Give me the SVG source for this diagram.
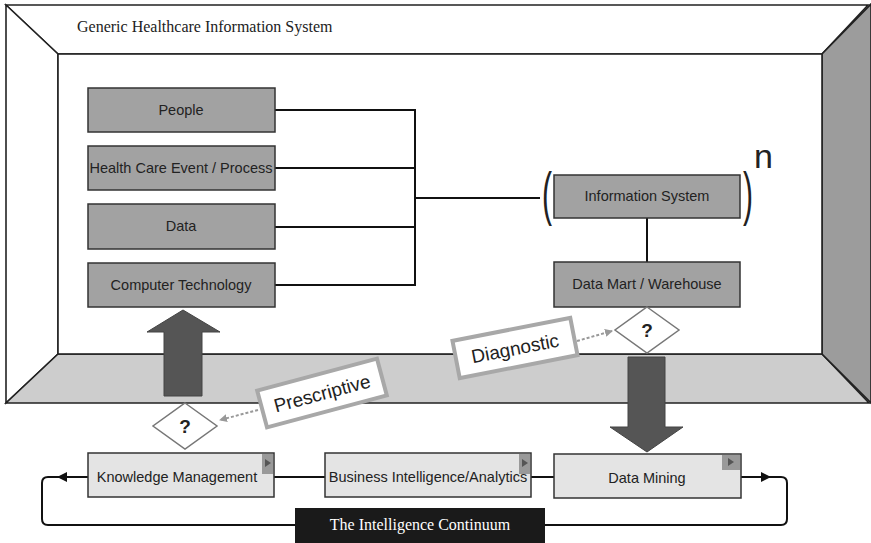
<svg xmlns="http://www.w3.org/2000/svg" width="871" height="543" viewBox="0 0 871 543">
<style>
.wall{stroke:#222;stroke-width:1.6;stroke-linejoin:miter}
.dark{fill:#a2a2a2;stroke:#333;stroke-width:1.5}
.light{fill:#e4e4e4;stroke:#333;stroke-width:1.5}
.lbl{font-family:"Liberation Sans",Arial,sans-serif;fill:#222;text-anchor:middle}
.conn{fill:none;stroke:#111;stroke-width:2}
.tag{fill:#fff;stroke:#a8a8a8;stroke-width:4}
.dia{fill:#fff;stroke:#777;stroke-width:1.5}
.big{fill:#555;stroke:#444;stroke-width:1}
.dash{stroke:#999;stroke-width:2;stroke-dasharray:3 2;fill:none}
.par{font-family:"Liberation Sans",Arial,sans-serif;font-size:50px;fill:#222;text-anchor:middle}
</style>
<defs>
<marker id="ga" markerWidth="8" markerHeight="8" refX="7" refY="4" orient="auto" markerUnits="userSpaceOnUse">
<path d="M0,0 L8,4 L0,8 z" fill="#999"/>
</marker>
</defs>
<g id="frame">
<polygon points="6,5 868,5 822,54 58,54" fill="#fff" class="wall"/>
<polygon points="6,5 58,54 58,354 6,403" fill="#fff" class="wall"/>
<polygon points="58,354 822,354 869,403 6,403" fill="#cdcdcd" class="wall"/>
<polygon points="822,54 871,4 871,403 822,354" fill="#9c9c9c" class="wall"/>
<rect x="58" y="54" width="764" height="300" fill="#fff" class="wall"/>
<text x="77" y="32" font-family="'Liberation Serif','Times New Roman',serif" font-size="16" fill="#222">Generic Healthcare Information System</text>
</g>
<g id="connectors">
<polyline class="conn" points="275,110 415,110 415,285 275,285"/>
<line class="conn" x1="275" y1="168" x2="415" y2="168"/>
<line class="conn" x1="275" y1="227" x2="415" y2="227"/>
<line class="conn" x1="415" y1="198" x2="540" y2="198"/>
<line class="conn" x1="647" y1="218" x2="647" y2="262"/>
<line class="conn" x1="274" y1="477" x2="325" y2="477"/>
<line class="conn" x1="531" y1="477" x2="554" y2="477"/>
<path class="conn" d="M88,477 H48 Q42,477 42,483 V519 Q42,525 48,525 H781 Q787,525 787,519 V483 Q787,477 781,477 H741"/>
<polygon points="57,477 67,472 67,482" fill="#111"/>
<polygon points="771,477 761,472 761,482" fill="#111"/>
<line class="dash" x1="577" y1="341" x2="612" y2="331" marker-end="url(#ga)"/>
<line class="dash" x1="258" y1="410" x2="220" y2="420" marker-end="url(#ga)"/>
</g>
<g id="arrow-up">
<polygon class="big" points="183,310 220,332 202,332 202,396 164,396 164,332 147,332"/>
</g>
<g id="arrow-down">
<polygon class="big" points="628,357 665,357 665,427 683,427 647,452 610,427 628,427"/>
</g>
<g id="people">
<rect class="dark" x="88" y="88" width="187" height="44"/>
<text class="lbl" x="181" y="115" font-size="14.5">People</text>
</g>
<g id="event">
<rect class="dark" x="88" y="146" width="187" height="44"/>
<text class="lbl" x="181" y="173" font-size="14.5">Health Care Event / Process</text>
</g>
<g id="data">
<rect class="dark" x="88" y="204" width="187" height="45"/>
<text class="lbl" x="181" y="231" font-size="14.5">Data</text>
</g>
<g id="tech">
<rect class="dark" x="88" y="263" width="187" height="44"/>
<text class="lbl" x="181" y="290" font-size="14.5">Computer Technology</text>
</g>
<g id="infosys">
<text class="par" transform="translate(547,214) scale(0.6,1.2)">(</text>
<text class="par" transform="translate(748,214) scale(0.6,1.2)">)</text>
<text x="754" y="168" font-family="'Liberation Sans',Arial,sans-serif" font-size="34" fill="#222">n</text>
<rect class="dark" x="554" y="175" width="186" height="43"/>
<text class="lbl" x="647" y="201" font-size="14.5">Information System</text>
</g>
<g id="datamart">
<rect class="dark" x="554" y="262" width="186" height="45"/>
<text class="lbl" x="647" y="289" font-size="14.5">Data Mart / Warehouse</text>
</g>
<g id="diamond-diag">
<polygon class="dia" points="647,307 679,330 647,353 615,330"/>
<text class="lbl" x="647" y="337" font-size="19" font-weight="bold">?</text>
</g>
<g id="diagnostic">
<g transform="translate(515,348) rotate(-11)">
<rect class="tag" x="-60" y="-19" width="120" height="38"/>
<text class="lbl" x="0" y="7" font-size="19">Diagnostic</text>
</g>
</g>
<g id="diamond-presc">
<polygon class="dia" points="185,403 217,426 185,449 153,426"/>
<text class="lbl" x="185" y="433" font-size="19" font-weight="bold">?</text>
</g>
<g id="prescriptive">
<g transform="translate(322,393) rotate(-15)">
<rect class="tag" x="-62" y="-19" width="124" height="38"/>
<text class="lbl" x="0" y="7" font-size="19">Prescriptive</text>
</g>
</g>
<g id="km">
<rect class="light" x="88" y="453" width="186" height="44"/>
<rect x="262" y="454" width="11" height="20" fill="#999"/>
<polygon points="265,459 271,463 265,467" fill="#555"/>
<text class="lbl" x="177" y="482" font-size="14.5">Knowledge Management</text>
</g>
<g id="bi">
<rect class="light" x="325" y="453" width="206" height="44"/>
<rect x="519" y="454" width="11" height="20" fill="#999"/>
<polygon points="522,459 528,463 522,467" fill="#555"/>
<text class="lbl" x="428" y="482" font-size="14.5">Business Intelligence/Analytics</text>
</g>
<g id="dm">
<rect class="light" x="554" y="454" width="187" height="44"/>
<rect x="722" y="455" width="18" height="15" fill="#999"/>
<polygon points="728,458 734,462 728,466" fill="#555"/>
<text class="lbl" x="647" y="483" font-size="14.5">Data Mining</text>
</g>
<g id="continuum">
<rect x="295" y="508" width="250" height="35" fill="#1a1a1a"/>
<text x="420" y="530" font-family="'Liberation Serif','Times New Roman',serif" font-size="16" fill="#fff" text-anchor="middle">The Intelligence Continuum</text>
</g>
</svg>
